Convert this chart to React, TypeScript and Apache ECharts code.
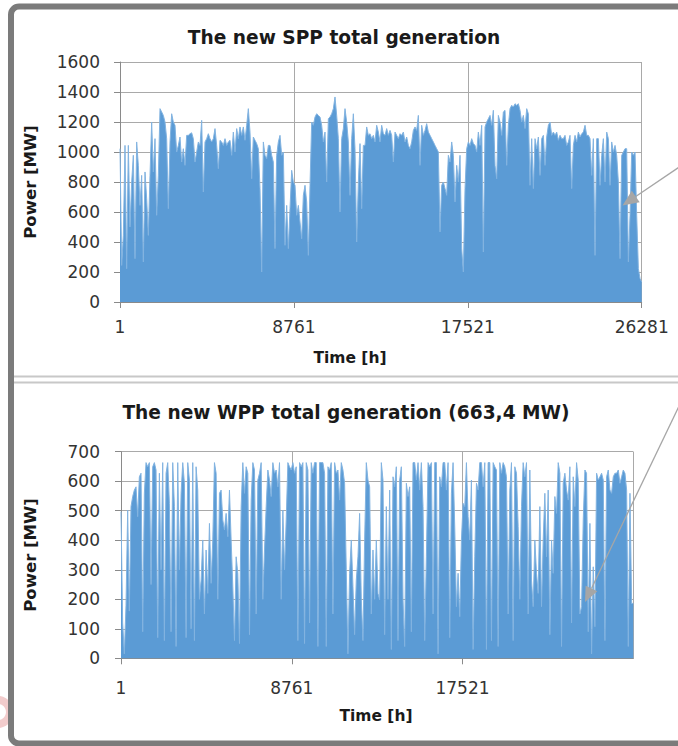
import React, { useEffect, useRef } from "react";
import * as echarts from "echarts";

// SPP (solar) total generation, upper envelope, MW
const solarMW = [
  1022, 244, 444, 1044, 222, 1044, 500, 800, 978, 289,
  1067, 911, 644, 844, 267, 867, 689, 444, 844, 1200,
  867, 1089, 578, 844, 1289, 1267, 1244, 1200, 1089, 622,
  1067, 1255, 1200, 1178, 1000, 1044, 1100, 933, 1022, 911,
  1111, 1111, 1122, 1128, 1089, 933, 1000, 1067, 1044, 1211,
  733, 1067, 1089, 1122, 1089, 1067, 1089, 1156, 1044, 889,
  1078, 1067, 1044, 1089, 1044, 1067, 1078, 978, 1133, 1000,
  1156, 1089, 1167, 1111, 1167, 1078, 1178, 1289, 1133, 822,
  1100, 1078, 1056, 1022, 756, 200, 1067, 978, 956, 1044,
  1044, 978, 933, 356, 978, 1067, 1111, 978, 1000, 378,
  644, 356, 622, 878, 800, 778, 578, 644, 533, 422,
  711, 778, 667, 311, 778, 1200, 1178, 1233, 1255, 1244,
  1233, 1178, 1067, 1133, 800, 1222, 1233, 1255, 1289, 1367,
  1244, 1089, 600, 1089, 1156, 1289, 1200, 1067, 711, 1089,
  1255, 1022, 400, 800, 1056, 622, 1044, 1044, 1167, 1111,
  1122, 1089, 1111, 1067, 1178, 1133, 1067, 1178, 1122, 1111,
  1156, 1111, 1144, 1111, 933, 1133, 1111, 1089, 1122, 1111,
  1133, 1067, 1100, 1044, 1022, 1067, 1144, 1167, 1144, 1244,
  911, 1178, 1111, 1144, 1189, 1133, 1111, 1089, 1067, 1044,
  1022, 1000, 467, 778, 800, 756, 711, 978, 933, 1067,
  978, 667, 911, 800, 978, 356, 200, 756, 1022, 1067,
  1044, 1089, 1056, 1044, 1000, 1133, 1044, 1178, 333, 1167,
  1200, 1222, 1244, 1178, 1278, 911, 822, 1244, 1200, 1111,
  1267, 1278, 911, 1178, 1289, 1311, 1300, 1322, 1311, 1322,
  1278, 1200, 1244, 1156, 1289, 1255, 778, 1089, 756, 1089,
  1022, 1100, 844, 1089, 1111, 911, 1100, 1178, 1200, 1111,
  1133, 1111, 1133, 1078, 1111, 1089, 1089, 1111, 1044, 1067,
  1111, 756, 1044, 1111, 1067, 1133, 1100, 1122, 1133, 1178,
  1111, 1111, 1089, 844, 1089, 311, 1089, 1089, 778, 978,
  1089, 800, 1133, 1089, 778, 1067, 1000, 1044, 978, 800,
  289, 978, 1000, 1022, 1022, 267, 578, 1000, 978, 1000,
  578, 222, 156, 133,
];

// WPP (wind) total generation, upper envelope, MW
const windMW = [
  497, 120, 15, 180, 502, 160, 514, 548, 570, 581,
  480, 615, 627, 90, 559, 663, 649, 663, 250, 649,
  663, 638, 70, 627, 300, 663, 60, 627, 663, 525,
  90, 663, 514, 40, 663, 300, 559, 663, 593, 70,
  663, 604, 100, 663, 60, 649, 570, 200, 265, 401,
  150, 367, 220, 457, 254, 401, 663, 627, 200, 559,
  570, 469, 435, 491, 412, 570, 401, 243, 60, 344,
  288, 50, 514, 663, 559, 649, 627, 80, 536, 663,
  638, 150, 604, 627, 663, 200, 367, 514, 638, 604,
  548, 663, 627, 638, 581, 663, 200, 502, 300, 469,
  663, 649, 638, 663, 627, 649, 60, 663, 649, 663,
  50, 663, 638, 120, 663, 627, 663, 663, 40, 663,
  663, 663, 627, 40, 649, 638, 663, 150, 663, 627,
  638, 536, 663, 638, 593, 300, 15, 288, 401, 243,
  80, 265, 344, 491, 200, 60, 401, 663, 604, 581,
  150, 367, 200, 401, 220, 198,
  663, 604, 80, 514, 200, 570, 30, 615, 581, 649,
  60, 604, 649, 200, 40, 593, 548, 581, 90, 663,
  663, 604, 663, 570, 663, 514, 60, 344, 663, 649,
  663, 150, 663, 663, 15, 615, 581, 663, 663, 570,
  663, 70, 559, 663, 446, 175, 288, 141, 401, 525,
  514, 663, 480, 401, 604, 30, 344, 593, 570, 663,
  663, 581, 663, 30, 663, 663, 60, 663, 649, 638,
  40, 663, 627, 663, 649, 615, 150, 570, 663, 60,
  649, 627, 446, 200, 514, 663, 615, 663, 150, 638,
  265, 175, 401, 288, 220, 514, 175, 401, 559, 344,
  570, 80, 401, 288, 548, 491, 663, 627, 40, 593,
  627, 570, 536, 649, 120, 615, 514, 663, 604, 150,
  175, 469, 638, 627, 90, 457, 15, 310, 107, 627,
  604, 615, 627, 604, 60, 615, 638, 570, 559, 615,
  627, 627, 638, 593, 615, 638, 627, 570, 40, 559,
  186, 186,
];

const xTickLabels = ["1", "8761", "17521", "26281"];
const spanHours = 26280;
const tickStepHours = 8760;
const solarTitle = "The new SPP total generation";
const windTitle = "The new WPP total generation (663,4 MW)";
const yName = "Power [MW]";
const xName = "Time [h]";

const FONT = "DejaVu Sans";
const axisGray = "#8a8a8a";
const gridGray = "#a9a9a9";
const labelColor = "#333333";
const barBlue = "#5b9bd5";
const edgeBlue = "#82b3e0";
const arrowGray = "#a6a6a6";

function toPairs(values: number[]) {
  const step = spanHours / (values.length - 1);
  return values.map((v, i) => [i * step, v]);
}

function xAxisFor(gridIndex: number, showMax: boolean, margin: number) {
  return {
    type: "value",
    gridIndex,
    min: 0,
    max: spanHours,
    interval: tickStepHours,
    axisLine: { show: true, lineStyle: { color: axisGray, width: 1 } },
    axisTick: { show: true, length: 6, lineStyle: { color: axisGray } },
    axisLabel: {
      formatter: (v: number) => xTickLabels[Math.round(v / tickStepHours)] ?? "",
      fontFamily: FONT,
      fontSize: 17,
      color: labelColor,
      margin,
      showMaxLabel: showMax,
      showMinLabel: true,
    },
    splitLine: { show: true, lineStyle: { color: gridGray, width: 1 } },
  };
}

function yAxisFor(gridIndex: number, max: number, interval: number, margin: number) {
  return {
    type: "value",
    gridIndex,
    min: 0,
    max,
    interval,
    axisLine: { show: true, lineStyle: { color: axisGray, width: 1 } },
    axisTick: { show: true, length: 6, lineStyle: { color: axisGray } },
    axisLabel: {
      formatter: (v: number) => String(v),
      fontFamily: FONT,
      fontSize: 17,
      color: labelColor,
      margin,
    },
    splitLine: { show: true, lineStyle: { color: gridGray, width: 1 } },
  };
}

function arrow(x1: number, y1: number, tx: number, ty: number, len: number, half: number) {
  const dx = tx - x1;
  const dy = ty - y1;
  const d = Math.sqrt(dx * dx + dy * dy);
  const ux = dx / d;
  const uy = dy / d;
  const bx = tx - ux * len;
  const by = ty - uy * len;
  const px = -uy;
  const py = ux;
  return [
    {
      type: "line",
      shape: { x1, y1, x2: bx, y2: by },
      style: { stroke: arrowGray, lineWidth: 1.3 },
      z: 100,
    },
    {
      type: "polygon",
      shape: {
        points: [
          [tx, ty],
          [bx + px * half, by + py * half],
          [bx - px * half, by - py * half],
        ],
      },
      style: { fill: arrowGray },
      z: 100,
    },
  ];
}

export default function App() {
  const ref = useRef<HTMLDivElement>(null);

  useEffect(() => {
    if (!ref.current) return;
    const chart = echarts.init(ref.current, null, { renderer: "svg" });

    const titleStyle = {
      fontFamily: FONT,
      fontWeight: "bold",
      fontSize: 18.6,
      fill: "#1a1a1a",
      textAlign: "center",
      textVerticalAlign: "middle",
    };
    const nameStyle = {
      fontFamily: FONT,
      fontWeight: "bold",
      fontSize: 16,
      fill: "#1a1a1a",
      textAlign: "center",
      textVerticalAlign: "middle",
    };

    const option: any = {
      animation: false,
      backgroundColor: "#ffffff",
      grid: [
        { left: 120, top: 62, width: 521.7, height: 240, outerBoundsMode: "none" },
        { left: 121, top: 451.7, width: 512.3, height: 206.6, outerBoundsMode: "none" },
      ],
      xAxis: [xAxisFor(0, true, 16), xAxisFor(1, false, 21)],
      yAxis: [yAxisFor(0, 1600, 200, 20), yAxisFor(1, 700, 100, 21)],
      series: [
        {
          type: "line",
          xAxisIndex: 0,
          yAxisIndex: 0,
          data: toPairs(solarMW),
          symbol: "none",
          silent: true,
          lineStyle: { color: edgeBlue, width: 1 },
          areaStyle: { color: barBlue, opacity: 1 },
        },
        {
          type: "line",
          xAxisIndex: 1,
          yAxisIndex: 1,
          data: toPairs(windMW),
          symbol: "none",
          silent: true,
          lineStyle: { color: edgeBlue, width: 1 },
          areaStyle: { color: barBlue, opacity: 1 },
        },
      ],
      graphic: [
        // faint logo remnant at lower-left
        { type: "circle", shape: { cx: -2, cy: 712, r: 16 }, style: { fill: "#f2cccc" }, z: 1 },
        { type: "circle", shape: { cx: -2, cy: 712, r: 8 }, style: { fill: "#ffffff" }, z: 2 },
        // outer dark frame
        {
          type: "rect",
          shape: { x: 11, y: 6.5, width: 710, height: 737, r: 8 },
          style: { fill: "none", stroke: "#7b7b7b", lineWidth: 6 },
          z: 50,
        },
        // separator between the two charts
        { type: "line", shape: { x1: 14, y1: 376.5, x2: 678, y2: 376.5 }, style: { stroke: "#c8c8c8", lineWidth: 2 }, z: 50 },
        { type: "line", shape: { x1: 14, y1: 382.5, x2: 678, y2: 382.5 }, style: { stroke: "#c8c8c8", lineWidth: 2 }, z: 50 },
        // titles
        { type: "text", x: 344, y: 37, style: { ...titleStyle, text: solarTitle }, z: 60 },
        { type: "text", x: 346, y: 412, style: { ...titleStyle, text: windTitle }, z: 60 },
        // axis names
        { type: "text", x: 30, y: 182, rotation: Math.PI / 2, style: { ...nameStyle, fontSize: 16.5, text: yName }, z: 60 },
        { type: "text", x: 30, y: 555, rotation: Math.PI / 2, style: { ...nameStyle, fontSize: 16.5, text: yName }, z: 60 },
        { type: "text", x: 350, y: 358, style: { ...nameStyle, fontSize: 15.5, text: xName }, z: 60 },
        { type: "text", x: 376, y: 716, style: { ...nameStyle, fontSize: 15.5, text: xName }, z: 60 },
        // arrows from the right edge
        ...arrow(680, 166.5, 622.5, 205.5, 16, 7),
        ...arrow(680, 404, 585, 602, 15, 6.5),
      ],
    };

    chart.setOption(option);
    return () => chart.dispose();
  }, []);

  return (
    <div
      ref={ref}
      style={{ position: "absolute", left: 0, top: 0, width: 678, height: 746 }}
    />
  );
}
